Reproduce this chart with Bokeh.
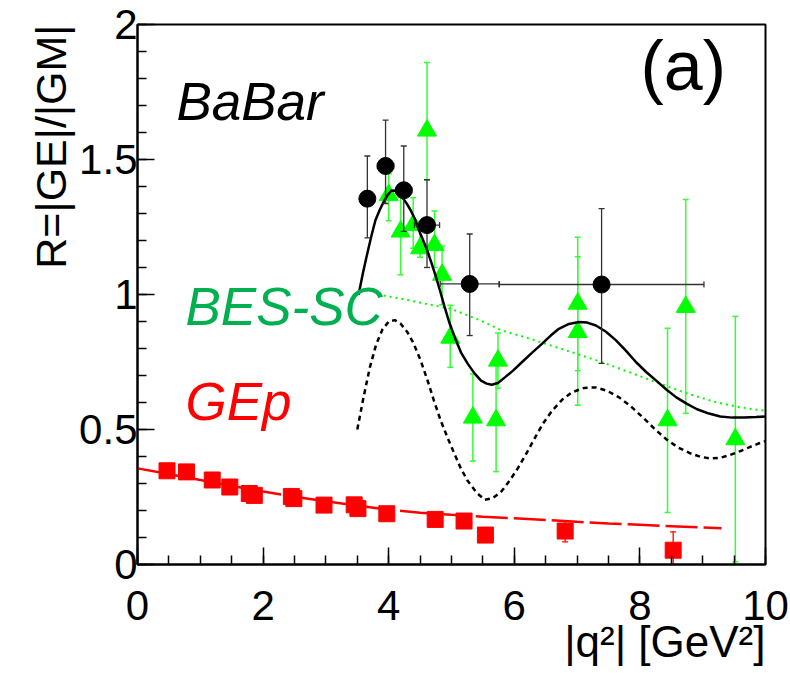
import math
from bokeh.plotting import figure
from bokeh.models import Range1d, Label, FixedTicker, Title
from bokeh.embed import file_html
from bokeh.resources import INLINE

# ---------------- data ----------------
# BaBar (black circles)
babar_x = [3.66, 3.95, 4.24, 4.61, 5.29, 7.39]
babar_y = [1.355, 1.476, 1.386, 1.257, 1.039, 1.037]
babar_xerr = [0.06, 0.13, 0.13, 0.20, 0.47, 1.63]
babar_ylo = [1.21, 1.337, 1.234, 1.10, 0.848, 0.745]
babar_yhi = [1.513, 1.646, 1.55, 1.425, 1.224, 1.318]

# BES-SC (green triangles)
bes_x = [4.00, 4.19, 4.39, 4.50, 4.61, 4.73, 4.85, 4.98, 5.34, 5.71, 5.74, 7.01, 7.01, 8.44, 8.73, 9.52]
bes_y = [1.368, 1.233, 1.257, 1.171, 1.607, 1.183, 1.073, 0.84, 0.544, 0.534, 0.755, 0.966, 0.861, 0.534, 0.954, 0.464]
bes_lo = [1.273, 1.073, 1.171, 1.138, 1.425, 1.10, 0.962, 0.73, 0.383, 0.344, 0.653, 0.718, 0.59, 0.193, 0.56, 0.01]
bes_hi = [1.447, 1.36, 1.358, 1.27, 1.859, 1.309, 1.18, 0.96, 0.706, 0.74, 0.857, 1.212, 1.14, 0.875, 1.352, 0.919]

# GEp (red squares)
gep_x = [0.47, 0.78, 1.19, 1.47, 1.78, 1.86, 2.45, 2.49, 2.97, 3.45, 3.51, 3.97, 4.74, 5.20, 5.54, 6.81, 8.53]
gep_y = [0.347, 0.343, 0.313, 0.287, 0.263, 0.256, 0.252, 0.244, 0.22, 0.221, 0.207, 0.188, 0.167, 0.161, 0.109, 0.124, 0.053]
gep_lo = [0.340, 0.336, 0.306, 0.280, 0.256, 0.249, 0.245, 0.237, 0.213, 0.214, 0.200, 0.181, 0.160, 0.154, 0.100, 0.084, 0.0]
gep_hi = [0.354, 0.350, 0.320, 0.294, 0.270, 0.263, 0.259, 0.251, 0.227, 0.228, 0.214, 0.195, 0.174, 0.168, 0.118, 0.161, 0.121]

# fit curves
gep_fit_x = [0.0, 0.5, 1.0, 1.5, 2.0, 2.5, 3.0, 3.5, 4.0, 4.5, 5.0, 5.5, 6.0, 6.5, 7.0, 7.5, 8.0, 8.5, 9.0, 9.3]
gep_fit_y = [0.356, 0.335, 0.313, 0.291, 0.270, 0.251, 0.234, 0.218, 0.203, 0.192, 0.184, 0.177, 0.171, 0.165, 0.158, 0.152, 0.147, 0.142, 0.137, 0.134]

solid_x = [3.52, 3.59, 3.66, 3.73, 3.79, 3.86, 3.92, 3.98, 4.04, 4.10, 4.15, 4.21, 4.28, 4.35, 4.42, 4.48, 4.55, 4.61, 4.68,
           4.75, 4.82, 4.89, 4.96, 5.05, 5.15, 5.26, 5.37, 5.47, 5.56, 5.64, 5.74, 5.85, 5.98, 6.12, 6.28, 6.44, 6.58,
           6.71, 6.87, 7.03, 7.16, 7.30, 7.46, 7.62, 7.78, 7.94, 8.10, 8.26, 8.42, 8.58, 8.75, 8.91, 9.10, 9.28, 9.47,
           9.66, 9.85, 10.0]
solid_y = [0.999, 1.080, 1.153, 1.222, 1.276, 1.315, 1.343, 1.367, 1.384, 1.385, 1.377, 1.362, 1.339, 1.312, 1.278, 1.239,
           1.200, 1.165, 1.118, 1.067, 1.012, 0.954, 0.900, 0.842, 0.786, 0.743, 0.707, 0.681, 0.670, 0.666, 0.672,
           0.693, 0.718, 0.749, 0.784, 0.817, 0.848, 0.873, 0.891, 0.898, 0.896, 0.885, 0.862, 0.830, 0.791, 0.749,
           0.713, 0.681, 0.648, 0.619, 0.595, 0.575, 0.559, 0.548, 0.544, 0.544, 0.546, 0.548]

dash_x = [3.50, 3.60, 3.70, 3.80, 3.90, 4.00, 4.10, 4.19, 4.30, 4.40, 4.51, 4.62, 4.72, 4.83, 4.94, 5.05, 5.15, 5.26, 5.40,
          5.53, 5.66, 5.80, 5.93, 6.06, 6.20, 6.33, 6.46, 6.60, 6.76, 6.92, 7.11, 7.30, 7.48, 7.67, 7.86, 8.05, 8.23,
          8.42, 8.61, 8.80, 8.96, 9.12, 9.28, 9.44, 9.60, 9.76, 9.90, 10.0]
dash_y = [0.500, 0.620, 0.730, 0.815, 0.870, 0.900, 0.905, 0.892, 0.860, 0.817, 0.755, 0.681, 0.607, 0.532, 0.468, 0.408,
          0.355, 0.309, 0.266, 0.240, 0.246, 0.272, 0.312, 0.358, 0.414, 0.470, 0.523, 0.569, 0.610, 0.638, 0.654,
          0.656, 0.643, 0.619, 0.585, 0.544, 0.503, 0.464, 0.433, 0.412, 0.399, 0.393, 0.395, 0.406, 0.420, 0.436,
          0.449, 0.457]

dot_x = [3.92, 4.19, 4.60, 4.99, 5.40, 5.80, 6.20, 6.60, 7.00, 7.40, 7.80, 8.20, 8.48, 8.80, 9.20, 9.60, 10.0]
dot_y = [0.996, 0.985, 0.965, 0.947, 0.910, 0.867, 0.840, 0.810, 0.780, 0.749, 0.715, 0.680, 0.656, 0.630, 0.602, 0.582, 0.569]

x_ticks = [0, 2, 4, 6, 8, 10]
x_tick_labels = ["0", "2", "4", "6", "8", "10"]
y_ticks = [0, 0.5, 1, 1.5, 2]
y_tick_labels = ["0", "0.5", "1", "1.5", "2"]

x_title = "|q²| [GeV²]"
y_title = "R=|GE|/|GM|"

FONT = "Liberation Sans"
GREEN_MK = "#00ff00"
GREEN_TXT = "#00b050"
RED = "#ff0000"

# ---------------- figure ----------------
p = figure(width=790, height=673, output_backend="svg", toolbar_location=None,
           x_range=Range1d(0, 10), y_range=Range1d(0, 2),
           min_border_left=137, min_border_right=25, min_border_top=24, min_border_bottom=109)
p.grid.visible = False
p.background_fill_color = "white"
p.border_fill_color = "white"
p.outline_line_color = "black"
p.outline_line_width = 2

for ax, ticks, labels, nminor in ((p.xaxis[0], x_ticks, x_tick_labels, 4), (p.yaxis[0], y_ticks, y_tick_labels, 5)):
    ax.ticker = FixedTicker(ticks=ticks,
                            minor_ticks=[t * (ticks[1] - ticks[0]) / nminor for t in range(0, nminor * (len(ticks) - 1) + 1)])
    ax.major_label_overrides = {t: l for t, l in zip(ticks, labels)}
    ax.major_label_text_font = FONT
    ax.major_label_text_font_size = "42px"
    ax.major_label_text_color = "black"
    ax.axis_line_color = "black"
    ax.axis_line_width = 2
    ax.major_tick_in = 17
    ax.major_tick_out = 0
    ax.minor_tick_in = 9
    ax.minor_tick_out = 0
    ax.major_tick_line_color = "black"
    ax.minor_tick_line_color = "black"
    ax.major_tick_line_width = 1.5
    ax.minor_tick_line_width = 1.5
p.xaxis[0].major_label_standoff = 26
p.yaxis[0].major_label_standoff = 0

# axis titles (right/top aligned as in the reference)
p.add_layout(Title(text=x_title, align="right", text_font=FONT, text_font_size="44px",
                   text_font_style="normal", text_color="black", standoff=-15), "below")
p.add_layout(Title(text=y_title, align="right", vertical_align="top", text_font=FONT, text_font_size="43px",
                   text_font_style="normal", text_color="black", text_line_height=1.4, standoff=0), "left")

# BES-SC error bars and triangles
p.segment(x0=bes_x, y0=bes_lo, x1=bes_x, y1=bes_hi, line_color="#33ff33", line_width=1.5)
p.scatter(x=bes_x + bes_x, y=bes_lo + bes_hi, marker="dash", size=6, line_color="#33ff33", line_width=1.5)
p.scatter(x=bes_x, y=bes_y, marker="triangle", size=19, fill_color=GREEN_MK, line_color=GREEN_MK)

# curves
p.line(x=dot_x, y=dot_y, line_color="#00ff00", line_width=2, line_dash="2 4")
p.line(x=dash_x, y=dash_y, line_color="black", line_width=2.5, line_dash="5 4")
p.line(x=solid_x, y=solid_y, line_color="black", line_width=2.5)

# BaBar error bars and circles
bx0 = [x - e for x, e in zip(babar_x, babar_xerr)]
bx1 = [x + e for x, e in zip(babar_x, babar_xerr)]
p.segment(x0=babar_x, y0=babar_ylo, x1=babar_x, y1=babar_yhi, line_color="#333333", line_width=1.3)
p.segment(x0=bx0, y0=babar_y, x1=bx1, y1=babar_y, line_color="#333333", line_width=1.3)
p.scatter(x=babar_x + babar_x, y=babar_ylo + babar_yhi, marker="dash", size=6, line_color="#333333", line_width=1.3)
p.scatter(x=bx0 + bx1, y=babar_y + babar_y, marker="dash", angle=math.pi / 2, size=6, line_color="#333333", line_width=1.3)
p.scatter(x=babar_x, y=babar_y, marker="circle", size=17, fill_color="black", line_color="black")

# GEp fit and squares
p.line(x=gep_fit_x, y=gep_fit_y, line_color=RED, line_width=2.5, line_dash="32 6")
p.segment(x0=gep_x, y0=gep_lo, x1=gep_x, y1=gep_hi, line_color=RED, line_width=1.3)
p.scatter(x=gep_x + gep_x, y=gep_lo + gep_hi, marker="dash", size=6, line_color=RED, line_width=1.3)
p.scatter(x=gep_x, y=gep_y, marker="square", size=16, fill_color=RED, line_color=RED)

# in-frame texts
def lab(x, y, text, size, color="black", style="normal"):
    p.add_layout(Label(x=x, y=y, text=text, text_font=FONT, text_font_size=size, text_color=color,
                       text_font_style=style, text_align="left", text_baseline="alphabetic"))

lab(0.62, 1.716, "BaBar", "53px", style="italic")
lab(8.01, 1.846, "(a)", "70px")
lab(0.764, 0.956, "BES-SC", "53px", color=GREEN_TXT, style="italic")
lab(0.764, 0.602, "GEp", "53px", color=RED, style="italic")

open("out.html", "w").write(file_html(p, INLINE))
